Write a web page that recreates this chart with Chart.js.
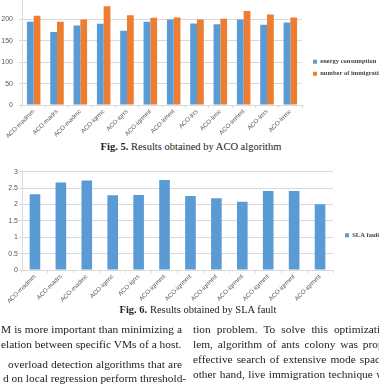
<!DOCTYPE html>
<html><head><meta charset="utf-8">
<script src="https://cdn.jsdelivr.net/npm/chart.js@4.4.1/dist/chart.umd.min.js"></script>
<style>
html,body{margin:0;padding:0;background:#fff;width:379px;height:386px;overflow:hidden;position:relative;}
.cv{position:absolute;left:0;}
.cap{position:absolute;font-family:"Liberation Serif",serif;font-size:10.5px;color:#222;white-space:nowrap;transform:translateX(-50%);}
.ln{position:absolute;font-family:"Liberation Serif",serif;font-size:11.4px;color:#222;white-space:nowrap;}
.j{text-align:justify;text-align-last:justify;}
</style></head><body>
<div class="cv" style="top:-12px;width:420px;height:150px;"><canvas id="c1"></canvas></div>
<div class="cap" style="left:191px;top:141px;"><b>Fig. 5.</b> Results obtained by ACO algorithm</div>
<div class="cv" style="top:162px;width:379px;height:143px;"><canvas id="c2"></canvas></div>
<div class="cap" style="left:198px;top:304px;"><b>Fig. 6.</b> Results obtained by SLA fault</div>
<div class="ln j" style="left:1px;top:323px;width:181px;">M is more important than minimizing a</div>
<div class="ln" style="left:1px;top:338px;">elation between specific VMs of a host.</div>
<div class="ln j" style="left:8px;top:358px;width:174px;">overload detection algorithms that are</div>
<div class="ln j" style="left:3px;top:372px;width:179px;">d on local regression perform threshold-</div>
<div class="ln" style="left:193px;top:323px;word-spacing:3.2px;">tion problem. To solve this optimizatio</div>
<div class="ln" style="left:193px;top:338px;word-spacing:2px;">lem, algorithm of ants colony was prop</div>
<div class="ln" style="left:193px;top:353px;word-spacing:1.2px;">effective search of extensive mode spac</div>
<div class="ln" style="left:193px;top:368px;word-spacing:0.6px;">other hand, live immigration technique w</div>
<script>
const aco_categories = ["ACO-madmm","ACO-madrs","ACO-madmc","ACO-iqrmc","ACO-iqrrs","ACO-iqrmmt","ACO-lrmmt","ACO-lrrs","ACO-lrmc","ACO-lrrmmt","ACO-lrrrs","ACO-lrrmc"];
const energy_consumption = [195,171,186,190,174,195,200,191,189,200,188,193];
const number_of_immigration = [209,195,200,231,210,204,205,200,202,220,212,205];
const aco_ticks = [0,50,100,150,200,250];

const sla_categories = ["ACO-madmm","ACO-madrs","ACO-madmc","ACO-iqrmc","ACO-iqrrs","ACO-iqrmmt","ACO-iqrmmt","ACO-iqrmmt","ACO-iqrmmt","ACO-iqrmmt","ACO-iqrmmt","ACO-iqrmmt"];
const sla_fault = [2.31,2.67,2.73,2.28,2.29,2.75,2.26,2.19,2.08,2.41,2.41,2.01];
const sla_ticks = [0,0.5,1,1.5,2,2.5,3];

const BLUE="#5B9BD5", ORANGE="#ED7D31", GRID="#d9d9d9", TICK="#595959";

const legendFix = {
  id:'legendFix',
  afterInit(chart){
    const o = chart.options.plugins.legendFix;
    const lg = chart.legend;
    const orig = lg.fit.bind(lg);
    lg.fit = function(){ orig(); this.width = o.width; };
  },
  afterLayout(chart){
    const o = chart.options.plugins.legendFix;
    const lg = chart.legend;
    lg.left += o.dx; lg.right += o.dx; lg.top += o.dy; lg.bottom += o.dy;
  }
};

function mk(id, cats, datasets, ticks, yMax, o){
  return new Chart(document.getElementById(id), {
    type:'bar',
    data:{labels:cats, datasets},
    plugins:[legendFix],
    options:{
      responsive:true, maintainAspectRatio:false, animation:false,
      layout:{padding:{top:o.padTop,bottom:0,left:0,right:0}},
      plugins:{
        legend:{position:'right', labels:{boxWidth:4, boxHeight:4, padding:o.legPad,
          font:{family:'"Liberation Serif", serif', size:6.5, weight:'bold'}, color:'#444'}},
        tooltip:{enabled:false},
        legendFix:{width:o.legW, dx:o.dx, dy:o.dy}
      },
      datasets:{bar:{categoryPercentage:o.cat, barPercentage:1}},
      scales:{
        x:{
          afterFit(s){ s.height = o.xH; },
          grid:{drawOnChartArea:false, drawTicks:true, tickLength:3, color:GRID},
          border:{color:GRID},
          ticks:{minRotation:45, maxRotation:45, autoSkip:false, padding:0,
            font:{family:'"Liberation Sans", sans-serif', size:6.2}, color:TICK}
        },
        y:{
          min:0, max:yMax,
          afterFit(s){ s.width = 22; },
          afterBuildTicks(s){ s.ticks = ticks.map(v=>({value:v})); },
          grid:{color:GRID, tickLength:3},
          border:{color:GRID},
          ticks:{padding:o.yPad, callback:(v)=>String(v), font:{family:'"Liberation Sans", sans-serif', size:7}, color:TICK}
        }
      }
    }
  });
}

mk('c1', aco_categories, [
  {label:'energy consumption', data:energy_consumption, backgroundColor:BLUE},
  {label:'number of immigration', data:number_of_immigration, backgroundColor:ORANGE}
], aco_ticks, 250, {padTop:9.5, xH:33, legW:118, legPad:5.5, dx:5.5, dy:0, cat:0.58, yPad:6});

mk('c2', sla_categories, [
  {label:'SLA fault', data:sla_fault, backgroundColor:BLUE}
], sla_ticks, 3, {padTop:9.7, xH:35, legW:46, legPad:10, dx:2, dy:-3, cat:0.41, yPad:1});
</script>
</body></html>
